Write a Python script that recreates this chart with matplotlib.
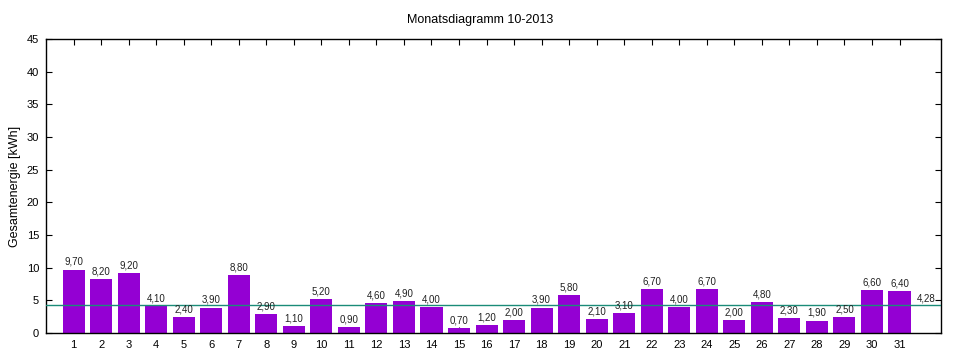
import numpy as np
import matplotlib.pyplot as plt

plt.rcParams['font.family'] = 'Liberation Sans'

days = list(range(1, 32))
energy = [9.7, 8.2, 9.2, 4.1, 2.4, 3.9, 8.8, 2.9, 1.1, 5.2,
          0.9, 4.6, 4.9, 4.0, 0.7, 1.2, 2.0, 3.9, 5.8, 2.1,
          3.1, 6.7, 4.0, 6.7, 2.0, 4.8, 2.3, 1.9, 2.5, 6.6, 6.4]
average = 4.28
title = 'Monatsdiagramm 10-2013'
ylabel = 'Gesamtenergie [kWh]'

fig = plt.figure(figsize=(9.6, 3.6), dpi=100)
ax = fig.add_axes([0.048, 0.075, 0.932, 0.817])

ax.bar(days, energy, width=0.8, color='#9400d3', zorder=2)
ax.axhline(average, color='#1a8c78', linewidth=1, zorder=3)

for d, v in zip(days, energy):
    ax.text(d, v + 0.4, ('%.2f' % v).replace('.', ','), ha='center', va='bottom',
            fontsize=7, color='#222222')
ax.text(32.3, average + 0.3, ('%.2f' % average).replace('.', ','), ha='right', va='bottom',
        fontsize=7, color='#222222')

ax.set_xlim(0, 32.5)
ax.set_ylim(0, 45)
ax.set_xticks(days)
ax.set_yticks(np.arange(0, 46, 5))
ax.tick_params(direction='in', top=True, right=True, labelsize=8, length=4, pad=5)
ax.set_ylabel(ylabel, fontsize=9)
for s in ax.spines.values():
    s.set_linewidth(1)
fig.suptitle(title, fontsize=9, y=0.96)

fig.savefig('out.png', dpi=100)
